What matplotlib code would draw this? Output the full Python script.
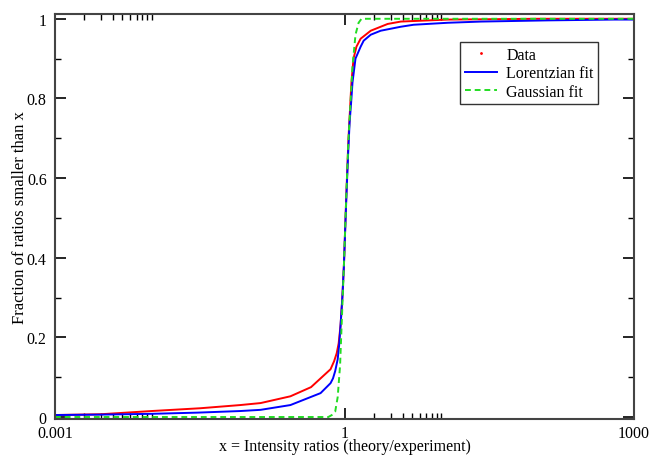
import numpy as np
import matplotlib
matplotlib.use("Agg")
import matplotlib.pyplot as plt
from matplotlib.lines import Line2D
from matplotlib.ticker import FixedLocator, NullFormatter

plt.rcParams['font.family'] = ['Liberation Serif', 'DejaVu Serif']

# values
data_x = [0.001, 0.003, 0.01, 0.032, 0.083, 0.135, 0.275, 0.45, 0.565, 0.717,
          0.78, 0.83, 0.87, 0.91, 0.95, 0.986, 1.045, 1.10, 1.18, 1.24, 1.33, 1.47,
          1.87, 2.8, 3.83, 11.8, 100, 1000]
data_y = [0.005, 0.007, 0.015, 0.022, 0.03, 0.035, 0.052, 0.075, 0.097, 0.12,
          0.14, 0.16, 0.185, 0.23, 0.30, 0.38, 0.56, 0.70, 0.84, 0.90, 0.93, 0.95,
          0.97, 0.987, 0.993, 0.998, 1.0, 1.0]

lor_x = [0.001, 0.003, 0.01, 0.03, 0.083, 0.135, 0.275, 0.565, 0.717, 0.76, 0.80,
         0.85, 0.88, 0.91, 0.95, 0.986, 1.02, 1.045, 1.09, 1.13, 1.18, 1.21,
         1.30, 1.47, 1.58, 1.87, 2.37, 3.83, 5.2, 11.8, 26, 128, 622, 1000]
lor_y = [0.005, 0.006, 0.008, 0.011, 0.015, 0.018, 0.03, 0.06, 0.085, 0.097, 0.115,
         0.145, 0.18, 0.23, 0.30, 0.38, 0.48, 0.55, 0.66, 0.74, 0.80, 0.84,
         0.90, 0.93, 0.945, 0.96, 0.97, 0.98, 0.985, 0.99, 0.993, 0.996, 0.998, 0.998]

gau_x = [0.001, 0.5, 0.68, 0.74, 0.80, 0.85, 0.90, 0.93, 0.986, 1.045,
         1.10, 1.18, 1.21, 1.30, 1.40, 1.50, 1000]
gau_y = [0.0, 0.0, 0.0, 0.005, 0.013, 0.05, 0.13, 0.22, 0.38, 0.56,
         0.70, 0.83, 0.88, 0.96, 0.99, 1.0, 1.0]

x_ticks = [0.001, 1, 1000]
x_labels = ['0.001', '1', '1000']
x_minor = [k * 0.001 for k in range(2, 11)] + [k * 1.0 for k in range(2, 11)]
y_ticks = [0, 0.2, 0.4, 0.6, 0.8, 1.0]
y_labels = ['0', '0.2', '0.4', '0.6', '0.8', '1']
y_minor = [0.1, 0.3, 0.5, 0.7, 0.9]

fig = plt.figure(figsize=(6.52, 4.56), dpi=100)
ax = fig.add_axes([55/652, 1-420/456, (634-55)/652, (420-15)/456])

ax.plot(data_x, data_y, color='#ff0000', lw=1.4)
ax.plot(lor_x, lor_y, color='#0000ff', lw=1.4)
ax.plot(gau_x, gau_y, color='#22dd22', lw=1.4, ls=(0, (3, 2)))

ax.set_xscale('log')
ax.set_xlim(0.001, 1000)
ax.set_ylim(-0.005, 1.012)

ax.xaxis.set_major_locator(FixedLocator(x_ticks))
ax.set_xticklabels(x_labels)
ax.xaxis.set_minor_locator(FixedLocator(x_minor))
ax.xaxis.set_minor_formatter(NullFormatter())
ax.set_yticks(y_ticks)
ax.set_yticklabels(y_labels)
ax.yaxis.set_minor_locator(FixedLocator(y_minor))

ax.tick_params(which='both', direction='in', top=True, right=True, labelsize=11.5, pad=6)
ax.tick_params(axis='x', which='both', pad=4)
ax.tick_params(which='major', length=8, width=1.2)
ax.tick_params(which='minor', length=4, width=1.0)
for s in ax.spines.values():
    s.set_linewidth(1.5)
    s.set_color('#444444')

ax.set_xlabel('x = Intensity ratios (theory/experiment)', fontsize=11.5, labelpad=-1.5)
ax.set_ylabel('Fraction of ratios smaller than x', fontsize=12, labelpad=-1)

handles = [Line2D([], [], color='#ff0000', marker='.', ls='none', ms=2),
           Line2D([], [], color='#0000ff', lw=1.4),
           Line2D([], [], color='#22dd22', lw=1.4, ls=(0, (3, 2)))]
leg = ax.legend(handles, ['Data', 'Lorentzian fit', 'Gaussian fit'],
                loc='upper left', bbox_to_anchor=(460/652, 1-43/456),
                bbox_transform=fig.transFigure, borderaxespad=0,
                fancybox=False, edgecolor='#333333', framealpha=1,
                fontsize=11.5, handlelength=2.0, handletextpad=0.6,
                labelspacing=0.15, borderpad=0.3)
leg.get_frame().set_linewidth(1.0)

fig.savefig('out.png', dpi=100)
